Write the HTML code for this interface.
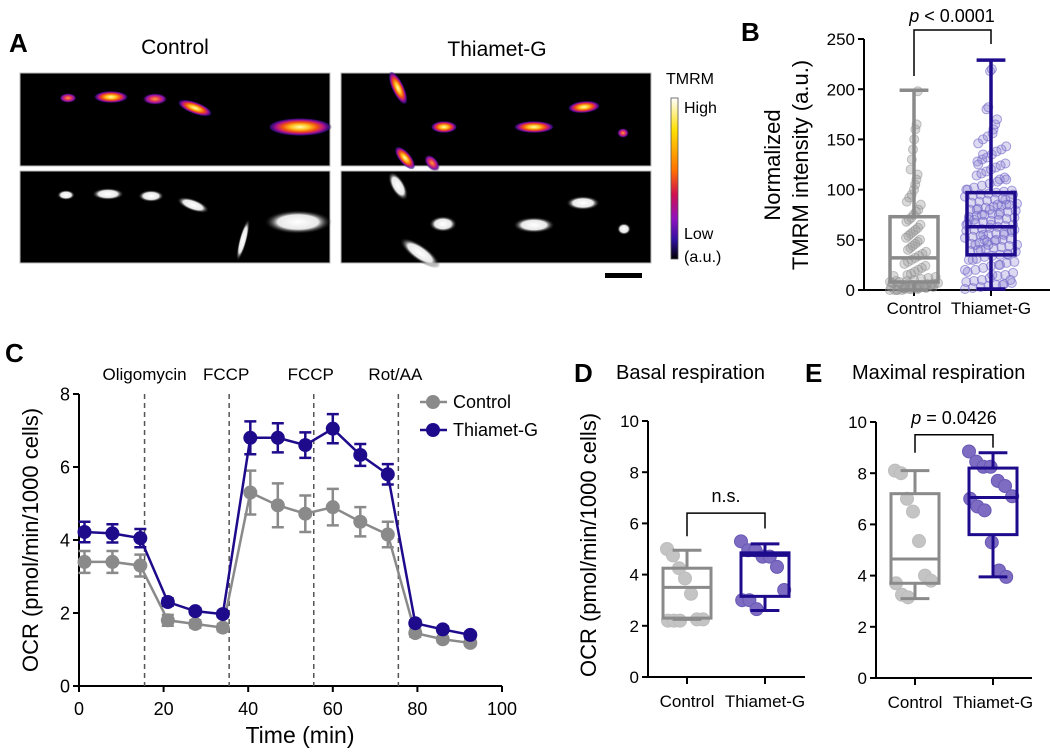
<!DOCTYPE html>
<html><head><meta charset="utf-8"><style>
html,body{margin:0;padding:0;background:#fff}
svg{display:block;font-family:"Liberation Sans",Arial,sans-serif}
</style></head><body>
<svg id="fig" width="1050" height="753" viewBox="0 0 1050 753" xmlns="http://www.w3.org/2000/svg">
<defs>
<radialGradient id="fire"><stop offset="0" stop-color="#ffffb0"/><stop offset="0.3" stop-color="#ffc020"/><stop offset="0.55" stop-color="#f05010"/><stop offset="0.75" stop-color="#b01090"/><stop offset="0.92" stop-color="#4010a0" stop-opacity="0.7"/><stop offset="1" stop-color="#000" stop-opacity="0"/></radialGradient>
<radialGradient id="fire2"><stop offset="0" stop-color="#ffa030"/><stop offset="0.4" stop-color="#e03060"/><stop offset="0.7" stop-color="#8010b0"/><stop offset="1" stop-color="#000" stop-opacity="0"/></radialGradient>
<radialGradient id="grayg"><stop offset="0" stop-color="#fff"/><stop offset="0.6" stop-color="#e8e8e8"/><stop offset="1" stop-color="#000" stop-opacity="0"/></radialGradient>
<linearGradient id="cbar" x1="0" y1="0" x2="0" y2="1"><stop offset="0" stop-color="#ffffff"/><stop offset="0.2" stop-color="#ffe000"/><stop offset="0.45" stop-color="#ff7000"/><stop offset="0.6" stop-color="#d01050"/><stop offset="0.75" stop-color="#9010c0"/><stop offset="0.88" stop-color="#3010a0"/><stop offset="1" stop-color="#000000"/></linearGradient>
</defs>

<!-- Panel A -->
<g>
<text x="9" y="52" font-size="26" font-weight="bold">A</text>
<text x="175" y="54" font-size="21" text-anchor="middle">Control</text>
<text x="497" y="56" font-size="21" text-anchor="middle">Thiamet-G</text>
<g>
<rect x="20" y="73" width="310" height="93" fill="#000" stroke="#bbb"/>
<ellipse cx="68" cy="98" rx="9" ry="5" fill="url(#fire2)"/>
<ellipse cx="111" cy="97" rx="17" ry="6" fill="url(#fire)"/>
<ellipse cx="155" cy="99" rx="13" ry="6" fill="url(#fire2)"/>
<ellipse cx="195" cy="108" rx="18" ry="6" fill="url(#fire)" transform="rotate(20 195 108)"/>
<ellipse cx="300" cy="127" rx="32" ry="9" fill="url(#fire)"/>
</g>
<g>
<rect x="20" y="171" width="310" height="92" fill="#000" stroke="#bbb"/>
<ellipse cx="66" cy="195" rx="9" ry="5" fill="url(#grayg)"/>
<ellipse cx="108" cy="194" rx="16" ry="6" fill="url(#grayg)"/>
<ellipse cx="151" cy="196" rx="13" ry="6" fill="url(#grayg)"/>
<ellipse cx="193" cy="205" rx="17" ry="6" fill="url(#grayg)" transform="rotate(20 193 205)"/>
<ellipse cx="298" cy="222" rx="34" ry="12" fill="url(#grayg)"/>
<ellipse cx="243" cy="240" rx="4" ry="22" fill="url(#grayg)" transform="rotate(15 243 240)"/>
</g>
<g>
<rect x="341" y="73" width="310" height="93" fill="#000" stroke="#bbb"/>
<ellipse cx="398" cy="88" rx="6" ry="18" fill="url(#fire)" transform="rotate(-25 398 88)"/>
<ellipse cx="444" cy="127" rx="13" ry="6" fill="url(#fire)"/>
<ellipse cx="534" cy="127" rx="20" ry="6" fill="url(#fire)"/>
<ellipse cx="584" cy="107" rx="16" ry="6" fill="url(#fire)" transform="rotate(-5 584 107)"/>
<ellipse cx="623" cy="133" rx="6" ry="5" fill="url(#fire2)"/>
<ellipse cx="405" cy="158" rx="6" ry="14" fill="url(#fire)" transform="rotate(-40 405 158)"/>
<ellipse cx="432" cy="163" rx="6" ry="10" fill="url(#fire2)" transform="rotate(-40 432 163)"/>
</g>
<g>
<rect x="341" y="171" width="310" height="92" fill="#000" stroke="#bbb"/>
<ellipse cx="398" cy="186" rx="7" ry="16" fill="url(#grayg)" transform="rotate(-30 398 186)"/>
<ellipse cx="443" cy="224" rx="14" ry="8" fill="url(#grayg)"/>
<ellipse cx="534" cy="225" rx="21" ry="8" fill="url(#grayg)"/>
<ellipse cx="583" cy="203" rx="17" ry="7" fill="url(#grayg)"/>
<ellipse cx="624" cy="229" rx="7" ry="6" fill="url(#grayg)"/>
<ellipse cx="420" cy="253" rx="8" ry="24" fill="url(#grayg)" transform="rotate(-55 420 253)"/>
</g>
<text x="666" y="84" font-size="16">TMRM</text>
<rect x="671" y="98" width="7" height="161" fill="url(#cbar)" stroke="#555" stroke-width="0.8"/>
<text x="684" y="113" font-size="16">High</text>
<text x="684" y="239" font-size="16">Low</text>
<text x="684" y="262" font-size="16">(a.u.)</text>
<rect x="605" y="273" width="37" height="5" fill="#000"/>
</g>

<g id="charts"></g>
</svg>
<script>
// ---------- Panel B data ----------
const bCategories = ["Control","Thiamet-G"];
const bTicks = [0,50,100,150,200,250];
const bBoxControl = {q1:8, med:32, q3:73, lo:0, hi:199};
const bBoxThiamet = {q1:35, med:63, q3:97, lo:1, hi:229};
const bPointsControl = [0,0,1,1,2,2,3,3,4,4,5,5,6,6,7,8,9,10,11,12,13,14,15,16,18,20,22,24,26,28,30,32,34,36,38,40,42,44,46,48,50,52,54,56,58,60,62,65,68,70,72,75,78,80,85,88,92,95,100,105,110,115,120,130,140,150,160,165,198,0,0,1,2,3,5,7,9,2,4,1,3,6,8,0,2];
const bPointsThiamet = [1,2,3,4,5,6,7,8,9,10,12,14,15,17,18,20,22,24,25,27,28,30,31,33,34,35,36,38,39,40,41,42,43,44,45,46,47,48,49,50,51,52,53,54,55,56,57,58,59,60,61,62,63,64,65,66,67,68,69,70,71,72,73,74,75,76,77,78,79,80,81,82,83,84,85,86,87,88,89,90,91,92,93,94,95,96,97,98,99,100,102,104,106,108,110,112,114,116,118,120,122,124,126,128,130,132,135,138,140,143,146,150,153,156,160,165,170,180,182,218,220,5,10,20,30,40,45,50,55,60,65,70,75,80,85,90,95,100,45,55,65,75,85,60,70,80,50,15,25,35,110,125,135];
// ---------- Panel C data ----------
const cTimes = [1.3,7.9,14.5,21,27.5,34,40.5,47,53.5,60,66.5,73,79.5,86,92.5];
const cControl = [3.4,3.4,3.3,1.8,1.7,1.6,5.3,4.95,4.72,4.9,4.5,4.15,1.45,1.28,1.18];
const cControlErr = [0.3,0.3,0.3,0.15,0.1,0.1,0.6,0.6,0.5,0.5,0.4,0.35,0.1,0.08,0.08];
const cThiamet = [4.22,4.18,4.05,2.3,2.05,1.97,6.8,6.8,6.6,7.05,6.33,5.8,1.72,1.55,1.4];
const cThiametErr = [0.28,0.25,0.25,0.1,0.08,0.08,0.45,0.4,0.35,0.4,0.3,0.28,0.08,0.08,0.08];
const cInjections = [15.5,35.5,55.5,75.5];
const cInjectionLabels = ["Oligomycin","FCCP","FCCP","Rot/AA"];
const cXTicks = [0,20,40,60,80,100];
const cYTicks = [0,2,4,6,8];
// ---------- Panel D data ----------
const dYTicks = [0,2,4,6,8,10];
const dBoxControl = {q1:2.3, med:3.5, q3:4.25, lo:2.25, hi:4.95};
const dBoxThiamet = {q1:3.15, med:4.75, q3:4.85, lo:2.6, hi:5.2};
const dPointsControl = [5.0,4.75,4.25,3.85,3.25,2.25,2.25,2.2,2.2,2.2];
const dPointsThiamet = [5.3,4.95,4.95,4.7,4.7,4.3,3.4,3.0,3.0,2.65];
// ---------- Panel E data ----------
const eBoxControl = {q1:3.7, med:4.65, q3:7.2, lo:3.1, hi:8.1};
const eBoxThiamet = {q1:5.6, med:7.05, q3:8.2, lo:3.95, hi:8.8};
const ePointsControl = [8.1,8.0,7.0,6.5,5.35,4.0,3.8,3.7,3.25,3.15];
const ePointsThiamet = [8.85,8.45,8.25,8.25,7.7,7.5,7.1,7.0,6.7,6.55,5.3,4.2,3.95];

const NS = "http://www.w3.org/2000/svg";
const root = document.getElementById("charts");
function mk(tag, attrs, parent, txt){
  const e = document.createElementNS(NS, tag);
  for (const k in attrs) e.setAttribute(k, attrs[k]);
  if (txt !== undefined) e.textContent = txt;
  (parent||root).appendChild(e);
  return e;
}
const GRAY="#8a8a8a", BLUE="#1e0b8c";

function yAxis(g, x, yfn, ticks, fs, label){
  const ax = mk("line",{x1:x,y1:yfn(ticks[0]),x2:x,y2:yfn(ticks[ticks.length-1]),stroke:"#000","stroke-width":2},g);
  
  
  ticks.forEach(t=>{
    const tk = mk("line",{x1:x-6,y1:yfn(t),x2:x,y2:yfn(t),stroke:"#000","stroke-width":2},g);
    
    
    const tl = mk("text",{x:x-9,y:yfn(t)+fs*0.36,"font-size":fs,"text-anchor":"end"},g,String(t));
    
    
  });
}
function box(g, cx, hw, b, yfn, color, sw, name){
  const r = mk("rect",{x:cx-hw,y:yfn(b.q3),width:2*hw,height:yfn(b.q1)-yfn(b.q3),fill:"none",stroke:color,"stroke-width":sw},g);
  
  
  const m = mk("line",{x1:cx-hw,x2:cx+hw,y1:yfn(b.med),y2:yfn(b.med),stroke:color,"stroke-width":sw},g);
  
  
  const w1 = mk("line",{x1:cx,x2:cx,y1:yfn(b.q3),y2:yfn(b.hi),stroke:color,"stroke-width":sw},g);
  
  
  const w2 = mk("line",{x1:cx,x2:cx,y1:yfn(b.q1),y2:yfn(b.lo),stroke:color,"stroke-width":sw},g);
  
  
  const c1 = mk("line",{x1:cx-hw*0.6,x2:cx+hw*0.6,y1:yfn(b.hi),y2:yfn(b.hi),stroke:color,"stroke-width":sw},g);
  
  
  const c2 = mk("line",{x1:cx-hw*0.6,x2:cx+hw*0.6,y1:yfn(b.lo),y2:yfn(b.lo),stroke:color,"stroke-width":sw},g);
  
  
}
function dots(g, cx, vals, yfn, spreadFn, r, fill, stroke, name){
  vals.forEach((v,i)=>{
    const j = (((i*7919)%41)/40 - 0.5)*2*spreadFn(v, i);
    const c = mk("circle",{cx:cx+j,cy:yfn(v),r:r,fill:fill,stroke:stroke,"stroke-width":1},g);
    
    
  });
}

// ---------- Panel B ----------
(function(){
  const g = mk("g",{});
  
  
  const yB = v => 290 - v*1.004;
  const xs = [914, 991];
  const lb = mk("text",{x:741,y:41,"font-size":26,"font-weight":"bold"},g,"B");
  
  
  yAxis(g, 864, yB, bTicks, 17, "panel-b");
  const xa = mk("line",{x1:864,x2:1050,y1:290,y2:290,stroke:"#000","stroke-width":2},g);
  
  
  bCategories.forEach((c,i)=>{
    const t = mk("line",{x1:xs[i],x2:xs[i],y1:290,y2:296,stroke:"#000","stroke-width":2},g);
    
    
    const l = mk("text",{x:xs[i],y:314,"font-size":17,"text-anchor":"middle"},g,c);
    
    
  });
  const tt = mk("text",{transform:"translate(780 165) rotate(-90)","font-size":22,"text-anchor":"middle"},g,"Normalized");
  
  
  const tt2 = mk("text",{transform:"translate(808 165) rotate(-90)","font-size":22,"text-anchor":"middle"},g,"TMRM intensity (a.u.)");
  
  
  dots(g, xs[0], bPointsControl, yB, v=> v<15?24:(v<40?12:(v<100?8:4)), 4.5, "rgba(150,150,150,0.35)", "rgba(140,140,140,0.5)", "control");
  dots(g, xs[1], bPointsThiamet, yB, v=> v<30?26:(v<110?26:(v<160?16:6)), 4.5, "rgba(140,130,210,0.3)", "rgba(110,100,200,0.6)", "thiamet");
  box(g, xs[0], 24, bBoxControl, yB, GRAY, 3.5, "control");
  box(g, xs[1], 24, bBoxThiamet, yB, BLUE, 3.5, "thiamet");
  const br = mk("path",{d:`M${xs[0]} 76 V30 H${xs[1]} V44`,fill:"none",stroke:"#000","stroke-width":1.5},g);
  
  
  const pt = mk("text",{x:952,y:22,"font-size":18,"text-anchor":"middle"},g);
  
  
  mk("tspan",{"font-style":"italic"},pt,"p");
  mk("tspan",{},pt," < 0.0001");
})();

// ---------- Panel C ----------
(function(){
  const g = mk("g",{});
  
  
  const xC = t => 79 + t*4.23;
  const yC = v => 686 - v*36.5;
  const lb = mk("text",{x:5,y:362,"font-size":26,"font-weight":"bold"},g,"C");
  
  
  yAxis(g, 79, yC, cYTicks, 18, "panel-c");
  const xa = mk("line",{x1:79,x2:502,y1:686,y2:686,stroke:"#000","stroke-width":2},g);
  
  
  cXTicks.forEach(t=>{
    const tk = mk("line",{x1:xC(t),x2:xC(t),y1:686,y2:692,stroke:"#000","stroke-width":2},g);
    
    
    const tl = mk("text",{x:xC(t),y:715,"font-size":18,"text-anchor":"middle"},g,String(t));
    
    
  });
  const xt = mk("text",{x:300,y:743,"font-size":23,"text-anchor":"middle"},g,"Time (min)");
  
  
  const yt = mk("text",{transform:"translate(38 540) rotate(-90)","font-size":22,"text-anchor":"middle"},g,"OCR (pmol/min/1000 cells)");
  
  
  cInjections.forEach((t,i)=>{
    const l = mk("line",{x1:xC(t),x2:xC(t),y1:394,y2:686,stroke:"#555","stroke-width":1.5,"stroke-dasharray":"5,4"},g);
    
    
    const tx = mk("text",{x:xC(t)-(i==0?0:3),y:380,"font-size":17,"text-anchor":"middle"},g,cInjectionLabels[i]);
    
    
  });
  [[cControl,cControlErr,GRAY,"control"],[cThiamet,cThiametErr,BLUE,"thiamet"]].forEach(([vals,errs,col,name])=>{
    const pts = vals.map((v,i)=>xC(cTimes[i])+","+yC(v)).join(" ");
    const pl = mk("polyline",{points:pts,fill:"none",stroke:col,"stroke-width":2.5},g);
    
    
    vals.forEach((v,i)=>{
      const x = xC(cTimes[i]);
      const eb = mk("path",{d:`M${x} ${yC(v-errs[i])} V${yC(v+errs[i])} M${x-6} ${yC(v+errs[i])} H${x+6} M${x-6} ${yC(v-errs[i])} H${x+6}`,stroke:col,"stroke-width":2.5,fill:"none"},g);
      
      
      const c = mk("circle",{cx:x,cy:yC(v),r:7,fill:col},g);
      
      
    });
  });
  [["Control",402,GRAY],["Thiamet-G",430,BLUE]].forEach(([n,y,col])=>{
    const le = mk("g",{},g);
    
    
    mk("line",{x1:420,x2:447,y1:y,y2:y,stroke:col,"stroke-width":2.5},le);
    mk("circle",{cx:433,cy:y,r:7,fill:col},le);
    mk("text",{x:453,y:y+6,"font-size":18},le,n);
  });
})();

// ---------- Panels D & E ----------
function smallPanel(cfg){
  const g = mk("g",{});
  
  
  const yf = v => cfg.y0 - v*25.6;
  yAxis(g, cfg.ax, yf, dYTicks, 17, cfg.name);
  const xa = mk("line",{x1:cfg.ax,x2:cfg.xend,y1:cfg.y0,y2:cfg.y0,stroke:"#000","stroke-width":2},g);
  
  
  bCategories.forEach((c,i)=>{
    const t = mk("line",{x1:cfg.xs[i],x2:cfg.xs[i],y1:cfg.y0,y2:cfg.y0+7,stroke:"#000","stroke-width":2},g);
    
    
    const l = mk("text",{x:cfg.xs[i],y:cfg.y0+30,"font-size":17,"text-anchor":"middle"},g,c);
    
    
  });
  const lb = mk("text",{x:cfg.lx,y:382,"font-size":26,"font-weight":"bold"},g,cfg.letter);
  
  
  const ti = mk("text",{x:cfg.tx,y:379,"font-size":20},g,cfg.title);
  
  
  dots(g, cfg.xs[0], cfg.pc, yf, ()=>20, 6.5, "#c4c4c4", "#bdbdbd", "control");
  dots(g, cfg.xs[1], cfg.pt, yf, ()=>24, 6.5, "#7d6cc2", "#6a59b5", "thiamet");
  box(g, cfg.xs[0], 24, cfg.bc, yf, GRAY, 3, "control");
  box(g, cfg.xs[1], 24, cfg.bt, yf, BLUE, 3, "thiamet");
  const br = mk("path",{d:`M${cfg.xs[0]} ${yf(cfg.br[1])} V${yf(cfg.br[0])} H${cfg.xs[1]} V${yf(cfg.br[2])}`,fill:"none",stroke:"#000","stroke-width":1.5},g);
  
  
  const pt = mk("text",{x:(cfg.xs[0]+cfg.xs[1])/2,y:yf(cfg.br[0])-11,"font-size":18,"text-anchor":"middle"},g);
  
  
  if (cfg.p){ mk("tspan",{"font-style":"italic"},pt,"p"); mk("tspan",{},pt," = "+cfg.p); }
  else pt.textContent = "n.s.";
  if (cfg.ytitle){
    const yt = mk("text",{transform:`translate(${cfg.ax-52} 545) rotate(-90)`,"font-size":22,"text-anchor":"middle"},g,"OCR (pmol/min/1000 cells)");
    
    
  }
}
smallPanel({name:"panel-d",letter:"D",lx:574,tx:616,title:"Basal respiration",ax:648,y0:677,xend:805,xs:[687,765],
  bc:dBoxControl,bt:dBoxThiamet,pc:dPointsControl,pt:dPointsThiamet,br:[6.4,5.5,5.8],p:null,ytitle:true});
smallPanel({name:"panel-e",letter:"E",lx:805,tx:852,title:"Maximal respiration",ax:876,y0:678,xend:1032,xs:[915,993],
  bc:eBoxControl,bt:eBoxThiamet,pc:ePointsControl,pt:ePointsThiamet,br:[9.5,8.8,9.0],p:"0.0426",ytitle:false});
</script>
</body></html>
